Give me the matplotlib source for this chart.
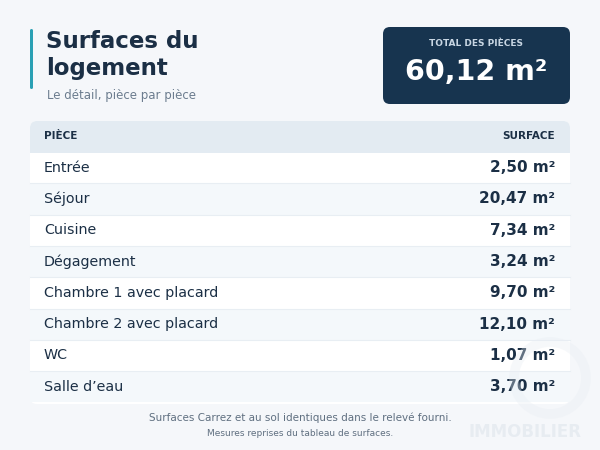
import matplotlib
matplotlib.use("Agg")
import matplotlib.pyplot as plt
from matplotlib.patches import FancyBboxPatch, Rectangle, Circle

rooms = ["Entrée", "Séjour", "Cuisine", "Dégagement", "Chambre 1 avec placard",
         "Chambre 2 avec placard", "WC", "Salle d’eau"]
areas = [2.50, 20.47, 7.34, 3.24, 9.70, 12.10, 1.07, 3.70]
total = 60.12

def fmt(v):
    return f"{v:.2f}".replace(".", ",") + " m²"

fig = plt.figure(figsize=(6, 4.5), dpi=100)
fig.patch.set_facecolor("#f5f7fa")
ax = fig.add_axes([0, 0, 1, 1])
ax.set_xlim(0, 600); ax.set_ylim(450, 0); ax.axis("off")

dark = "#1b2f45"
# title block
ax.add_patch(FancyBboxPatch((30, 29), 3, 60, boxstyle="round,pad=0,rounding_size=1.5", fc="#2aa0b4", ec="none"))
ax.text(46, 42, "Surfaces du", fontsize=16.5, fontweight="bold", color=dark, va="center", ha="left")
ax.text(46, 69, "logement", fontsize=16.5, fontweight="bold", color=dark, va="center", ha="left")
ax.text(47, 95, "Le détail, pièce par pièce", fontsize=8.5, color="#6b7c8e", va="center")

# total box
ax.add_patch(FancyBboxPatch((383, 27), 187, 77, boxstyle="round,pad=0,rounding_size=7", fc="#17344f", ec="none"))
ax.text(476, 43, "TOTAL DES PIÈCES", fontsize=6.5, fontweight="bold", color="#c8d6e3", ha="center", va="center")
ax.text(476, 72, fmt(total), fontsize=20.5, fontweight="bold", color="white", ha="center", va="center")

# table
ax.add_patch(FancyBboxPatch((30, 121), 540, 283, boxstyle="round,pad=0,rounding_size=7", fc="white", ec="none"))
ax.add_patch(FancyBboxPatch((30, 121), 540, 31, boxstyle="round,pad=0,rounding_size=7", fc="#e3ebf2", ec="none"))
ax.add_patch(Rectangle((30, 140), 540, 13, fc="#e3ebf2", ec="none"))
ax.text(44, 136, "PIÈCE", fontsize=7.5, fontweight="bold", color=dark, va="center")
ax.text(555, 136, "SURFACE", fontsize=7.5, fontweight="bold", color=dark, va="center", ha="right")
h = 31.3
for i, (r, a) in enumerate(zip(rooms, areas)):
    y0 = 152 + i * h
    if i % 2 == 1:
        ax.add_patch(Rectangle((30, y0), 540, h, fc="#f4f8fb", ec="none"))
    if i > 0:
        ax.plot([30, 570], [y0, y0], color="#e8eef3", lw=0.8)
    yc = y0 + h / 2
    ax.text(44, yc, r, fontsize=10.3, color=dark, va="center")
    ax.text(555, yc, fmt(a), fontsize=11, fontweight="bold", color=dark, va="center", ha="right")

# watermark
ax.add_patch(Circle((550, 378), 36, fc="none", ec="#e8edf3", lw=7, alpha=0.35, zorder=5))
ax.text(525, 432, "IMMOBILIER", fontsize=12, color="#e6ebf1", alpha=0.9, ha="center", va="center", fontweight="bold", zorder=5)

ax.text(300, 418, "Surfaces Carrez et au sol identiques dans le relevé fourni.", fontsize=7.5, color="#5f6f80", ha="center", va="center")
ax.text(300, 434, "Mesures reprises du tableau de surfaces.", fontsize=6.5, color="#5f6f80", ha="center", va="center")

fig.savefig("out.png", dpi=100, facecolor=fig.get_facecolor())
